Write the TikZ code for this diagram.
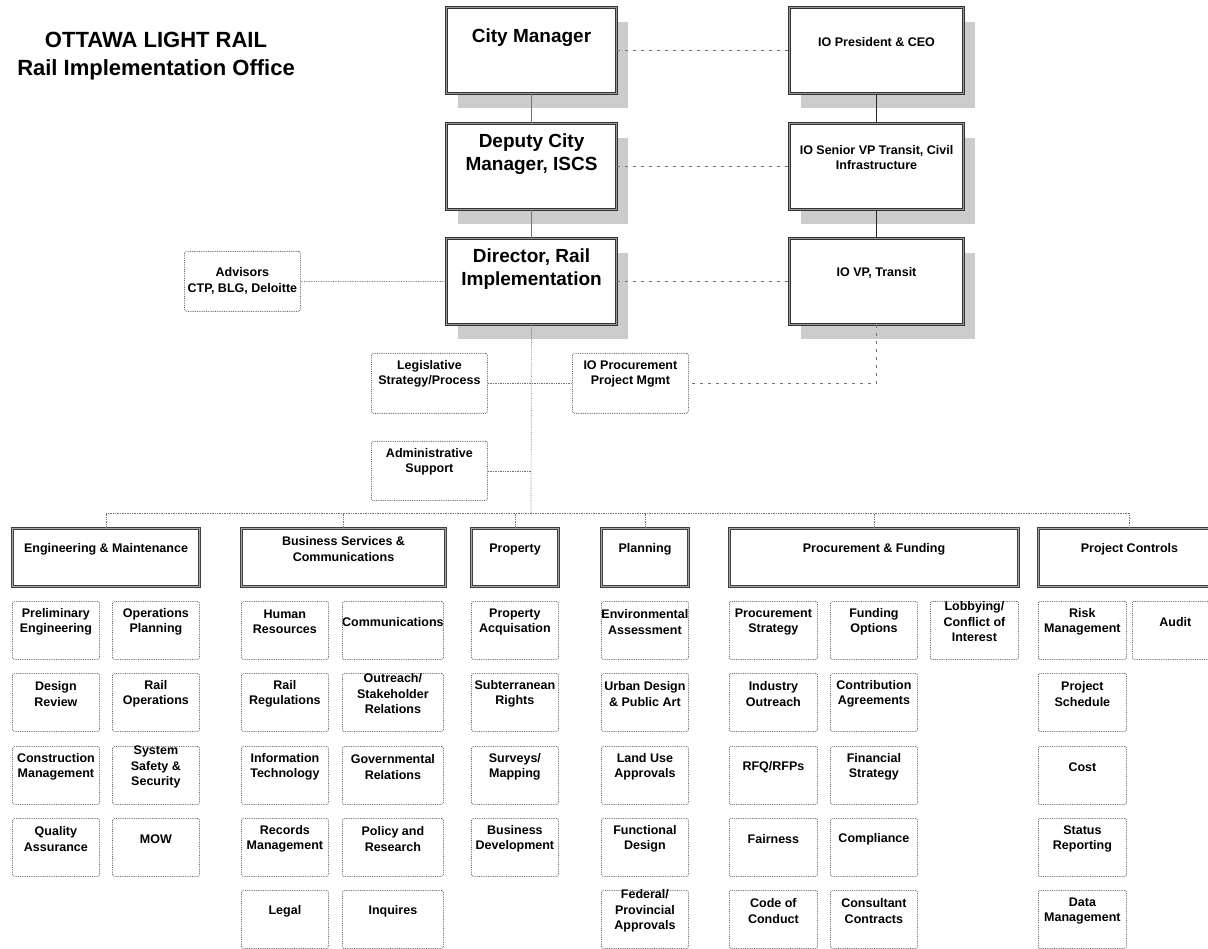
\documentclass[tikz,border=0pt]{standalone}
\usepackage{fontspec}
\setmainfont{Liberation Sans}
\usetikzlibrary{shadows}

\begin{document}
\begin{tikzpicture}[x=1pt, y=-1pt,
    every node/.style={font=\bfseries},
    chief/.style={rectangle, draw=black!80, fill=white, line width=1.1pt, double=black!40, double distance=1.5pt,
        minimum width=170pt, minimum height=86pt, anchor=north west, inner sep=0pt,
        drop shadow={shadow xshift=11pt, shadow yshift=-14pt, fill=black!20, opacity=1}},
    partner/.style={chief, minimum width=174pt},
    division/.style={rectangle, draw=black!75, line width=1pt, double=black!35, double distance=1.3pt,
        minimum height=58pt, anchor=north west, inner sep=0pt},
    unitbox/.style={rectangle, draw=black!60, densely dotted, line width=0.8pt, rounded corners=1.5pt,
        minimum width=87pt, minimum height=58pt, anchor=north west, inner sep=0pt},
    tb/.style={anchor=center, yshift=-31pt, align=center, inner sep=0pt, font=\bfseries\fontsize{19}{23}\selectfont},
    ti/.style={anchor=center, yshift=-35pt, align=center, inner sep=0pt, font=\bfseries\fontsize{12.5}{15}\selectfont},
    tl/.style={anchor=center, yshift=-21pt, align=center, inner sep=0pt, font=\bfseries\fontsize{12.5}{15.5}\selectfont},
    lnk/.style={densely dotted, draw=black!55, line width=0.7pt},
    chainln/.style={draw=black!55, line width=1pt},
    ioln/.style={draw=black!85, line width=1.3pt},
    dashln/.style={dash pattern=on 3pt off 5pt, draw=black!55, line width=0.8pt}]

    \clip (0,0) rectangle (1208,949);

    \node[font=\bfseries\fontsize{22}{28}\selectfont, align=center] (title) at (156,56) {OTTAWA LIGHT RAIL\\Rail Implementation Office};

    % city side
    \node[chief, label={[tb]north:City Manager}] (cm) at (446,7) {};
    \node[chief, label={[tb]north:Deputy City\\Manager{,} ISCS}] (dcm) at (446,123) {};
    \node[chief, label={[tb]north:Director{,} Rail\\Implementation}] (dir) at (446,238) {};

    % IO side
    \node[partner, label={[ti]north:IO President \& CEO}] (ceo) at (789,7) {};
    \node[partner, label={[ti]north:IO Senior VP Transit{,} Civil\\Infrastructure}] (svp) at (789,123) {};
    \node[partner, label={[ti]north:IO VP{,} Transit}] (vp) at (789,238) {};

    \node[unitbox, minimum width=116pt, minimum height=60pt, align=center,
        font=\bfseries\fontsize{12.5}{16}\selectfont] (adv) at (184,251) {Advisors\\CTP, BLG, Deloitte};
    \node[unitbox, minimum width=116pt, minimum height=60pt, label={[tl]north:Legislative\\Strategy/Process}] (leg) at (371,353) {};
    \node[unitbox, minimum width=116pt, minimum height=60pt, label={[tl]north:IO Procurement\\Project Mgmt}] (iop) at (572,353) {};
    \node[unitbox, minimum width=116pt, minimum height=59pt, label={[tl]north:Administrative\\Support}] (adm) at (371,441) {};

    % divisions
    \node[division, minimum width=187pt, label={[tl]north:Engineering \& Maintenance}] (eng) at (12,528) {};
    \node[division, minimum width=204pt, label={[tl]north:Business Services \&\\Communications}] (biz) at (241,528) {};
    \node[division, minimum width=87pt, label={[tl]north:Property}] (prop) at (471,528) {};
    \node[division, minimum width=87pt, label={[tl]north:Planning}] (plan) at (601,528) {};
    \node[division, minimum width=289pt, label={[tl]north:Procurement \& Funding}] (proc) at (729,528) {};
    \node[division, minimum width=182pt, label={[tl]north:Project Controls}] (pc) at (1038,528) {};

    % engineering & maintenance
    \node[unitbox, label={[tl]north:Preliminary\\Engineering}] (pre) at (12,601) {};
    \node[unitbox, label={[tl]north:Design\\Review}] (des) at (12,673) {};
    \node[unitbox, label={[tl]north:Construction\\Management}] (con) at (12,746) {};
    \node[unitbox, label={[tl]north:Quality\\Assurance}] (qa) at (12,818) {};
    \node[unitbox, label={[tl]north:Operations\\Planning}] (opp) at (112,601) {};
    \node[unitbox, label={[tl]north:Rail\\Operations}] (rop) at (112,673) {};
    \node[unitbox, label={[tl]north:System\\Safety \&\\Security}] (sss) at (112,746) {};
    \node[unitbox, label={[tl]north:MOW}] (mow) at (112,818) {};

    % business services
    \node[unitbox, label={[tl]north:Human\\Resources}] (hr) at (241,601) {};
    \node[unitbox, label={[tl]north:Rail\\Regulations}] (reg) at (241,673) {};
    \node[unitbox, label={[tl]north:Information\\Technology}] (it) at (241,746) {};
    \node[unitbox, label={[tl]north:Records\\Management}] (rec) at (241,818) {};
    \node[unitbox, label={[tl]north:Legal}] (leg2) at (241,890) {};
    \node[unitbox, minimum width=101pt, label={[tl]north:Communications}] (com) at (342,601) {};
    \node[unitbox, minimum width=101pt, label={[tl]north:Outreach/\\Stakeholder\\Relations}] (out) at (342,673) {};
    \node[unitbox, minimum width=101pt, label={[tl]north:Governmental\\Relations}] (gov) at (342,746) {};
    \node[unitbox, minimum width=101pt, label={[tl]north:Policy and\\Research}] (pol) at (342,818) {};
    \node[unitbox, minimum width=101pt, label={[tl]north:Inquires}] (inq) at (342,890) {};

    % property
    \node[unitbox, label={[tl]north:Property\\Acquisation}] (acq) at (471,601) {};
    \node[unitbox, label={[tl]north:Subterranean\\Rights}] (sub) at (471,673) {};
    \node[unitbox, label={[tl]north:Surveys/\\Mapping}] (sur) at (471,746) {};
    \node[unitbox, label={[tl]north:Business\\Development}] (bd) at (471,818) {};

    % planning
    \node[unitbox, label={[tl]north:Environmental\\Assessment}] (env) at (601,601) {};
    \node[unitbox, label={[tl]north:Urban Design\\\& Public Art}] (urb) at (601,673) {};
    \node[unitbox, label={[tl]north:Land Use\\Approvals}] (lu) at (601,746) {};
    \node[unitbox, label={[tl]north:Functional\\Design}] (fd) at (601,818) {};
    \node[unitbox, label={[tl]north:Federal/\\Provincial\\Approvals}] (fp) at (601,890) {};

    % procurement & funding
    \node[unitbox, minimum width=88pt, label={[tl]north:Procurement\\Strategy}] (ps) at (729,601) {};
    \node[unitbox, minimum width=88pt, label={[tl]north:Industry\\Outreach}] (io) at (729,673) {};
    \node[unitbox, minimum width=88pt, label={[tl]north:RFQ/RFPs}] (rfq) at (729,746) {};
    \node[unitbox, minimum width=88pt, label={[tl]north:Fairness}] (fair) at (729,818) {};
    \node[unitbox, minimum width=88pt, label={[tl]north:Code of\\Conduct}] (coc) at (729,890) {};
    \node[unitbox, label={[tl]north:Funding\\Options}] (fo) at (830,601) {};
    \node[unitbox, label={[tl]north:Contribution\\Agreements}] (ca) at (830,673) {};
    \node[unitbox, label={[tl]north:Financial\\Strategy}] (fs) at (830,746) {};
    \node[unitbox, label={[tl]north:Compliance}] (cmp) at (830,818) {};
    \node[unitbox, label={[tl]north:Consultant\\Contracts}] (cc) at (830,890) {};
    \node[unitbox, minimum width=88pt, label={[tl]north:Lobbying/\\Conflict of\\Interest}] (lob) at (930,601) {};

    % project controls
    \node[unitbox, minimum width=88pt, label={[tl]north:Risk\\Management}] (risk) at (1038,601) {};
    \node[unitbox, minimum width=88pt, label={[tl]north:Project\\Schedule}] (sch) at (1038,673) {};
    \node[unitbox, minimum width=88pt, label={[tl]north:Cost}] (cost) at (1038,746) {};
    \node[unitbox, minimum width=88pt, label={[tl]north:Status\\Reporting}] (stat) at (1038,818) {};
    \node[unitbox, minimum width=88pt, label={[tl]north:Data\\Management}] (data) at (1038,890) {};
    \node[unitbox, minimum width=86pt, label={[tl]north:Audit}] (aud) at (1132,601) {};

    % connectors
    \coordinate (bus) at (531,513);
    \draw[chainln] (cm) -- (dcm);
    \draw[chainln] (dcm) -- (dir);
    \draw[ioln] (ceo) -- (svp);
    \draw[ioln] (svp) -- (vp);
    \draw[dashln] (cm) -- (ceo);
    \draw[dashln] (dcm) -- (svp);
    \draw[dashln] (dir) -- (vp);
    \draw[dashln] (vp) |- (iop);
    \draw[lnk] (adv) -- (dir);
    \draw[lnk] (leg) -- (iop);
    \draw[lnk] (dir) -- (bus);
    \draw[lnk] (adm) -- (adm -| bus);
    \draw[lnk] (eng) -- (eng |- bus) -| (pc);
    \draw[lnk] (biz) -- (biz |- bus);
    \draw[lnk] (prop) -- (prop |- bus);
    \draw[lnk] (plan) -- (plan |- bus);
    \draw[lnk] (proc) -- (proc |- bus);
\end{tikzpicture}
\end{document}
